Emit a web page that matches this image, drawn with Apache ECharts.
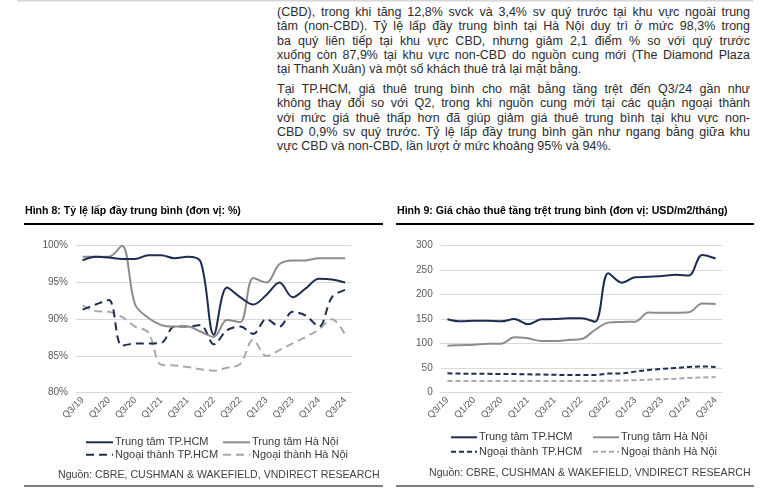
<!DOCTYPE html>
<html>
<head>
<meta charset="utf-8">
<script src="https://cdn.jsdelivr.net/npm/echarts@6/dist/echarts.min.js"></script>
<style>
  html, body { margin: 0; padding: 0; background: #fff; }
  body { width: 779px; height: 504px; position: relative; overflow: hidden; font-family: 'Liberation Sans', Arial, sans-serif; }
  #text { position: absolute; left: 277px; top: 5px; width: 473px; font-size: 12.5px; line-height: 14.3px; color: #2b2b2b; border-top: 0; }
  #text .j { text-align: justify; text-align-last: justify; white-space: nowrap; }
  #text .l { text-align: left; white-space: nowrap; }
  #text .gap { height: 5.7px; }
  #c1 { position: absolute; left: 0; top: 0; width: 389px; height: 504px; }
  #c2 { position: absolute; left: 389px; top: 0; width: 390px; height: 504px; }
</style>
</head>
<body>
<div id="text">
  <div class="j">(CBD), trong khi tăng 12,8% svck và 3,4% sv quý trước tại khu vực ngoài trung</div>
  <div class="j">tâm (non-CBD). Tỷ lệ lấp đầy trung bình tại Hà Nội duy trì ở mức 98,3% trong</div>
  <div class="j">ba quý liên tiếp tại khu vực CBD, nhưng giảm 2,1 điểm % so với quý trước</div>
  <div class="j">xuống còn 87,9% tại khu vực non-CBD do nguồn cung mới (The Diamond Plaza</div>
  <div class="l">tại Thanh Xuân) và một số khách thuê trả lại mặt bằng.</div>
  <div class="gap"></div>
  <div class="j">Tại TP.HCM, giá thuê trung bình cho mặt bằng tầng trệt đến Q3/24 gần như</div>
  <div class="j">không thay đổi so với Q2, trong khi nguồn cung mới tại các quận ngoại thành</div>
  <div class="j">với mức giá thuê thấp hơn đã giúp giảm giá thuê trung bình tại khu vực non-</div>
  <div class="j">CBD 0,9% sv quý trước. Tỷ lệ lấp đầy trung bình gần như ngang bằng giữa khu</div>
  <div class="l">vực CBD và non-CBD, lần lượt ở mức khoảng 95% và 94%.</div>
</div>
<div id="c1"></div>
<div id="c2"></div>
<script>
// ---- data ----
const quarters = ['Q3/19','Q4/19','Q1/20','Q2/20','Q3/20','Q4/20','Q1/21','Q2/21','Q3/21','Q4/21','Q1/22','Q2/22','Q3/22','Q4/22','Q1/23','Q2/23','Q3/23','Q4/23','Q1/24','Q2/24','Q3/24'];
const seriesNames = ['Trung tâm TP.HCM', 'Trung tâm Hà Nội', 'Ngoại thành TP.HCM', 'Ngoại thành Hà Nội'];

// Hình 8: occupancy (%)
const occHcmCbd = [98.0, 98.5, 98.4, 98.2, 98.2, 98.7, 98.7, 98.3, 98.5, 97.8, 87.9, 94.3, 93.0, 92.0, 93.3, 95.0, 93.0, 94.2, 95.5, 95.4, 95.0];
const occHnCbd  = [98.5, 98.5, 98.5, 100.0, 92.0, 90.2, 89.2, 89.0, 89.0, 88.3, 87.6, 89.9, 89.6, 95.6, 95.0, 97.5, 98.0, 98.0, 98.3, 98.3, 98.3];
const occHcmNon = [91.3, 92.0, 92.6, 86.4, 86.7, 86.7, 86.8, 89.0, 89.0, 89.2, 86.6, 88.5, 89.0, 88.0, 90.0, 89.0, 91.0, 90.5, 89.0, 93.0, 94.0];
const occHnNon  = [91.9, 91.1, 91.0, 90.3, 89.0, 88.2, 83.8, 83.7, 83.5, 83.2, 83.0, 83.4, 83.9, 87.2, 85.0, 85.8, 86.7, 87.6, 88.6, 90.0, 87.9];
const occTicks = { min: 80, max: 100, interval: 5 };

// Hình 9: ground-floor asking rent (USD/m2/month)
const rentHcmCbd = [150, 145.6, 147, 147, 145.6, 150.3, 139.5, 149.7, 150.3, 151.7, 151.7, 145, 244, 224.5, 235.5, 236.5, 238, 240.5, 239, 281, 274];
const rentHnCbd  = [96, 97, 98, 100, 100, 113, 111, 105.5, 105.5, 107.5, 109.5, 128, 143, 144.5, 145, 163.5, 163, 163, 164, 182, 181];
const rentHcmNon = [39.5, 39, 38.5, 38.5, 38, 38, 37.5, 37, 36.5, 36, 36, 36, 39, 39.5, 43, 46.5, 48.5, 50.5, 52.5, 53.5, 52.5];
const rentHnNon  = [24, 24, 24, 24, 24, 24, 24, 24, 24, 24, 24, 24, 24.5, 24.8, 25.5, 26.5, 27.5, 28.5, 30, 31, 32];
const rentTicks = { min: 0, max: 300, interval: 50 };

// ---- styling ----
const FONT = "'Liberation Sans', Arial, sans-serif";
const C_DARK = '#1c2d52';
const C_GRAY = '#8c8c8c';
const C_LGRAY = '#a9a9a9';

function buildOption(cfg) {
  const styles = [
    { color: C_DARK, type: 'solid' },
    { color: C_GRAY, type: 'solid' },
    { color: C_DARK, type: cfg.dash },
    { color: C_LGRAY, type: cfg.dash }
  ];
  const series = cfg.data.map((d, i) => ({
    name: seriesNames[i],
    type: 'line',
    data: d,
    smooth: 0.35,
    symbol: 'none',
    lineStyle: { width: 2, color: styles[i].color, type: styles[i].type },
    itemStyle: { color: styles[i].color },
    z: 10 - i
  }));
  const legendPos = [
    [cfg.legX[0], cfg.legY[0]], [cfg.legX[1], cfg.legY[0]],
    [cfg.legX[0], cfg.legY[1]], [cfg.legX[1], cfg.legY[1]]
  ];
  const legends = seriesNames.map((n, i) => ({
    data: [n],
    left: legendPos[i][0],
    top: legendPos[i][1] - 6,
    padding: 0,
    itemWidth: cfg.legItemW,
    itemHeight: 12,
    itemGap: 0,
    selectedMode: false,
    itemStyle: { opacity: 0 },
    textStyle: { fontFamily: FONT, fontSize: 11, color: '#3a3a3a', lineHeight: 12, padding: [0, 0, 0, -3] }
  }));
  // horizontal rules drawn as rich-text boxes inside title components
  const ruleTitle = (x, y, w, h) => ({
    text: '{r|}',
    left: x, top: y, padding: 0,
    textStyle: { rich: { r: { width: w, height: h, lineHeight: h, backgroundColor: '#000', fontSize: 1 } } }
  });
  return {
    animation: false,
    backgroundColor: 'transparent',
    title: [{
      text: cfg.title,
      left: cfg.titleX, top: 205, padding: 0,
      textStyle: { fontFamily: FONT, fontSize: 10.6, fontWeight: 'bold', color: '#000', lineHeight: 12 }
    }, {
      text: 'Nguồn: CBRE, CUSHMAN & WAKEFIELD, VNDIRECT RESEARCH',
      left: cfg.srcX, top: cfg.srcY - 6, padding: 0,
      textStyle: { fontFamily: FONT, fontSize: 10.6, fontWeight: 'normal', color: '#404040', lineHeight: 12 }
    },
      ruleTitle(cfg.rule[0], 223, cfg.rule[1] - cfg.rule[0], 2),
      ruleTitle(cfg.rule[0], 485.4, cfg.rule[1] - cfg.rule[0], 1.2)
    ].concat(cfg.extraTitles || []),
    legend: legends,
    grid: { left: cfg.gridL, right: cfg.gridR, top: 245.7, bottom: 111.3, containLabel: false },
    xAxis: {
      type: 'category',
      data: quarters,
      boundaryGap: true,
      axisLine: { show: true, lineStyle: { color: '#d9d9d9', width: 1 } },
      axisTick: { show: false },
      axisLabel: { interval: 1, rotate: 45, margin: 6, fontFamily: FONT, fontSize: 9.5, color: '#595959' }
    },
    yAxis: {
      type: 'value',
      min: cfg.ticks.min, max: cfg.ticks.max, interval: cfg.ticks.interval,
      axisLine: { show: false },
      axisTick: { show: false },
      splitLine: { lineStyle: { color: '#d9d9d9', width: 1 } },
      axisLabel: { margin: 8, fontFamily: FONT, fontSize: 10, color: '#595959', formatter: cfg.yFmt }
    },
    series: series
  };
}

const chart1 = echarts.init(document.getElementById('c1'), null, { renderer: 'canvas' });
chart1.setOption(buildOption({
  title: 'Hình 8: Tỷ lệ lấp đầy trung bình (đơn vị: %)',
  titleX: 25,
  data: [occHcmCbd, occHnCbd, occHcmNon, occHnNon],
  ticks: occTicks,
  yFmt: '{value}%',
  gridL: 76, gridR: 37.3,
  dash: [8, 5],
  legX: [85, 222], legY: [442.3, 454.7], legItemW: 27,
  rule: [24, 383],
  srcX: 58, srcY: 475,
  extraTitles: [{
    text: '{r|}', left: 17, top: 0, padding: 0,
    textStyle: { rich: { r: { width: 372, height: 1.5, lineHeight: 1.5, backgroundColor: '#d6d6d6', fontSize: 1 } } }
  }]
}));

const chart2 = echarts.init(document.getElementById('c2'), null, { renderer: 'canvas' });
chart2.setOption(buildOption({
  title: 'Hình 9: Giá chào thuê tầng trệt trung bình (đơn vị: USD/m2/tháng)',
  titleX: 8,
  data: [rentHcmCbd, rentHnCbd, rentHcmNon, rentHnNon],
  ticks: rentTicks,
  yFmt: '{value}',
  gridL: 51.7, gridR: 56.7,
  dash: [5, 3],
  legX: [61, 203], legY: [437.3, 451.7], legItemW: 26,
  rule: [7, 365],
  srcX: 40, srcY: 473.3,
  extraTitles: [{
    text: '{r|}', left: 0, top: 0, padding: 0,
    textStyle: { rich: { r: { width: 364, height: 1.5, lineHeight: 1.5, backgroundColor: '#d6d6d6', fontSize: 1 } } }
  }]
}));
</script>
</body>
</html>
